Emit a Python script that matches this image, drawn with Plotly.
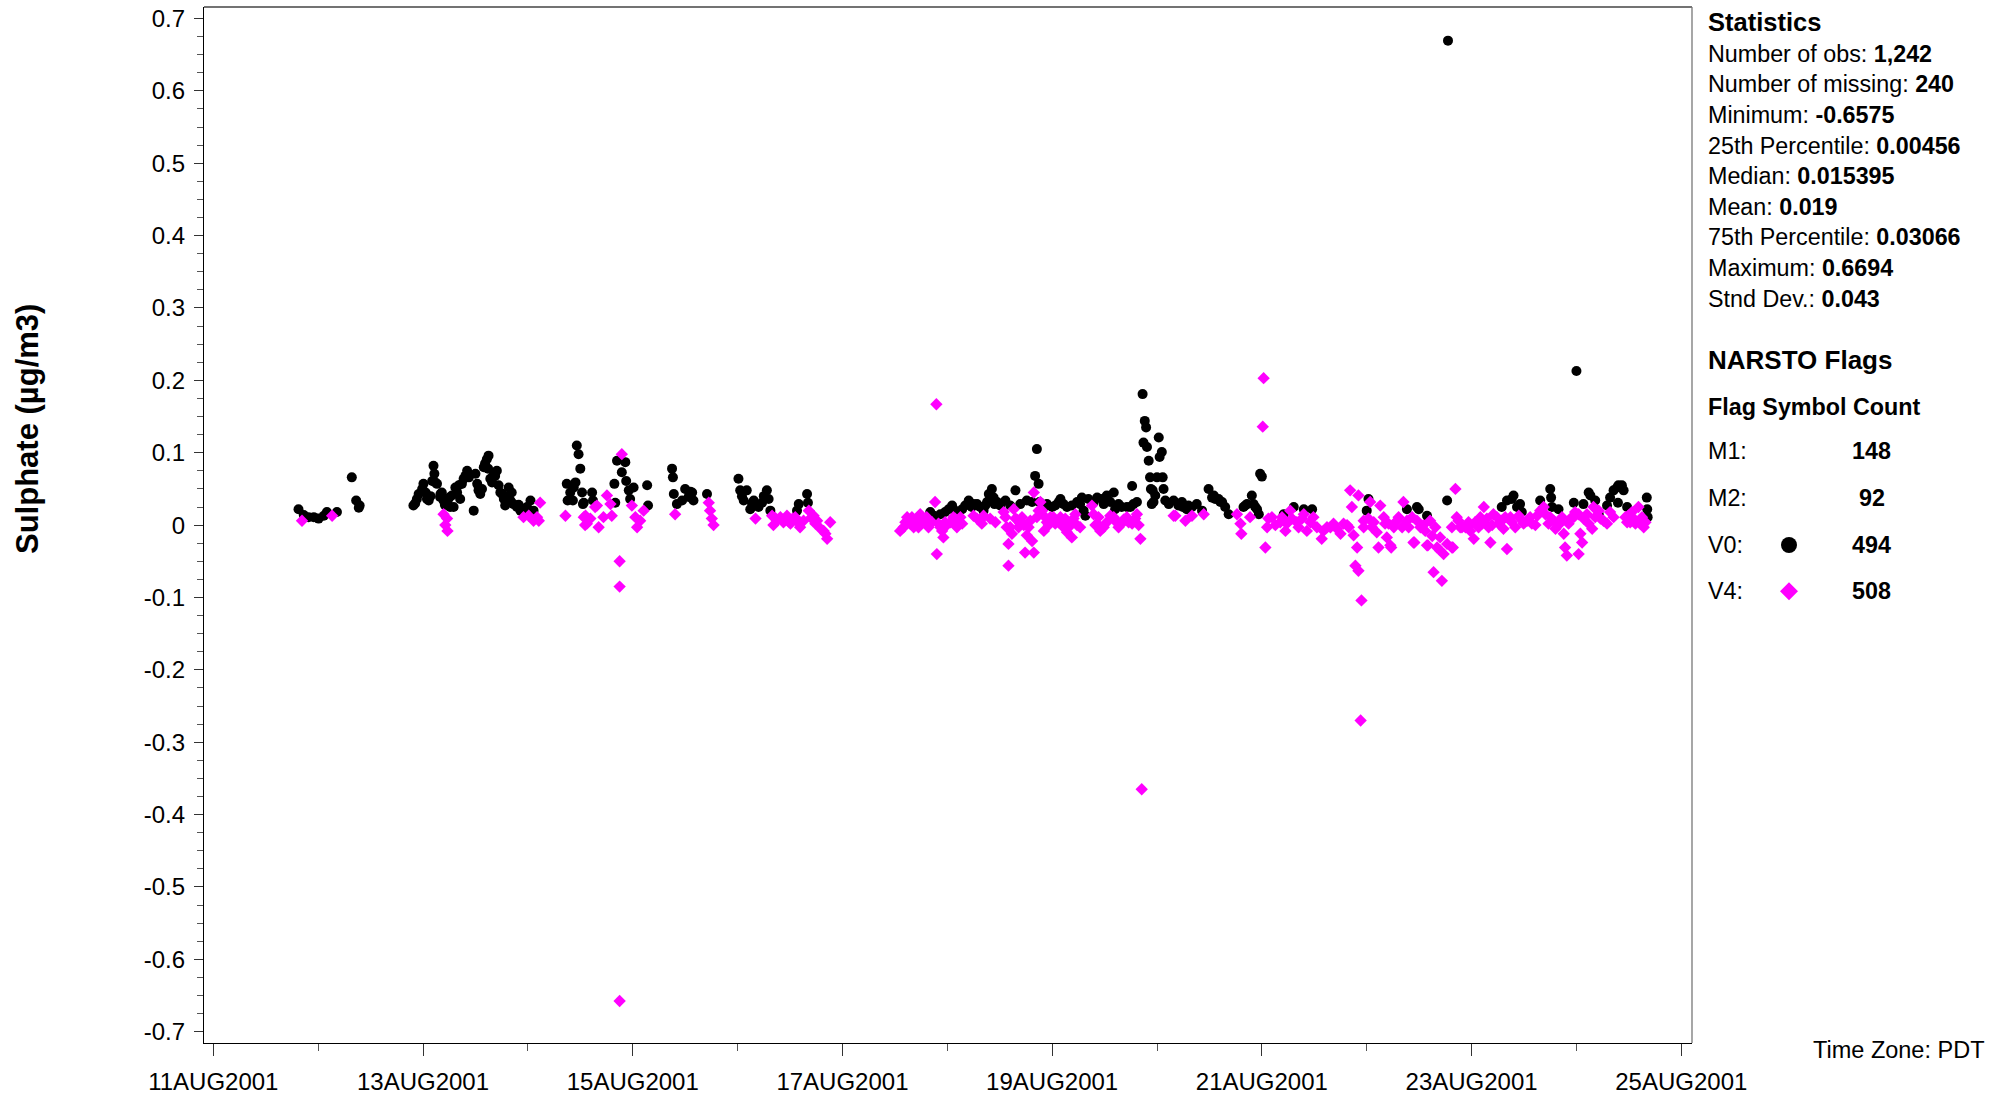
import pandas as pd
import plotly.graph_objects as go

# ---------------- data (hours after 11AUG2001 00:00 PDT, value in ug/m3) ----------------
v0_hours = [
    19.5, 20.7, 21.8, 23.0, 24.1, 25.3, 26.0, 28.3, 31.7, 32.7, 33.3, 33.5,
    45.8, 46.2, 46.6, 47.0, 47.8, 48.1, 48.6, 49.3, 49.7, 50.1, 50.4, 50.6, 51.2, 51.9, 52.3, 52.7,
    53.5, 54.0, 54.6, 55.0, 55.4, 56.2, 56.5, 57.3, 57.7, 58.1, 58.5, 59.6, 60.0, 60.4, 60.7, 61.1,
    61.9, 62.2, 62.6, 63.0, 63.4, 63.8, 64.2, 64.9, 65.3, 65.7, 66.5, 66.8, 67.2, 67.6, 68.0, 68.7,
    69.5, 69.9, 70.3, 71.0, 71.8, 72.6, 73.3,
    48.9, 50.8, 52.0, 53.0, 54.2, 55.8, 56.9, 61.5, 62.9, 64.5, 66.1, 68.3,
    80.9, 81.1, 81.7, 82.3, 82.5, 82.9, 83.2, 83.6, 84.0, 84.4, 84.6, 84.8, 86.7, 86.9,
    91.8, 92.0, 92.4, 93.5, 94.3, 94.5, 95.1, 95.4, 96.2, 99.3, 99.5,
    105.0, 105.2, 105.4, 106.1, 107.3, 108.0, 108.8, 109.2, 109.6, 109.9, 113.0,
    120.2, 120.6, 121.0, 121.4, 122.1, 122.9, 123.3, 123.7, 124.2, 124.8, 125.6, 126.0, 126.7,
    127.1, 127.5, 133.6, 134.0, 135.9, 136.1,
    164.1, 164.9, 166.4, 167.5, 168.3, 169.1, 169.8, 170.2, 171.4, 172.1, 172.9, 173.6, 174.0,
    174.8, 175.5, 176.3, 176.7, 177.1, 177.5, 177.8, 178.2, 178.6, 178.8, 179.4, 180.1, 181.3,
    182.4, 183.6, 184.7, 186.2, 187.4, 188.1, 188.5, 188.9, 189.1, 190.1, 190.8, 192.0, 192.7,
    193.5, 193.9, 194.6, 195.4, 196.5, 197.7, 198.4, 198.8, 199.2, 199.6, 200.3, 201.5, 202.3,
    203.4, 203.8, 204.5, 204.9, 205.3, 206.1, 206.4, 207.2, 207.9, 209.1, 209.9, 210.3, 210.6,
    211.4, 212.7, 212.9, 213.2, 213.5, 213.7, 214.1, 214.4, 214.6, 215.2, 215.6, 216.0, 216.4,
    216.6, 217.1, 217.3, 217.5, 217.9, 218.7, 219.8, 220.9, 221.7, 222.8, 224.0, 225.1, 226.3,
    227.8, 229.0, 230.1, 230.9, 231.6, 232.4, 235.8, 236.6, 237.7, 238.5, 239.3, 239.6, 240.0,
    214.8, 215.0, 221.9, 223.2, 228.6, 229.3, 230.5, 236.2, 238.1, 238.9,
    245.0, 247.3, 249.6, 251.5, 264.0, 264.4, 273.2, 275.5, 275.9, 277.8, 282.4, 282.6,
    294.9, 296.1, 297.2, 297.6, 298.4, 299.1, 299.5, 303.7, 306.0, 306.2, 306.4, 307.9, 311.4,
    312.0, 313.6, 314.8, 315.2, 316.3, 317.1, 319.0, 319.7, 320.5, 321.3, 321.5, 321.6, 322.4,
    322.8, 323.6, 328.1, 328.2, 328.3,
]
v0_values = [
    0.022, 0.014, 0.011, 0.011, 0.009, 0.013, 0.018, 0.018, 0.066, 0.034, 0.024, 0.027,
    0.027, 0.030, 0.036, 0.043, 0.050, 0.057, 0.045, 0.034, 0.040, 0.061, 0.082, 0.071, 0.057, 0.039, 0.045, 0.034,
    0.032, 0.038, 0.041, 0.025, 0.052, 0.055, 0.036, 0.064, 0.068, 0.075, 0.066, 0.020, 0.071, 0.057, 0.048, 0.043,
    0.080, 0.085, 0.091, 0.096, 0.064, 0.059, 0.070, 0.075, 0.055, 0.045, 0.036, 0.027, 0.040, 0.052, 0.034, 0.029,
    0.025, 0.028, 0.020, 0.022, 0.025, 0.034, 0.020,
    0.036, 0.059, 0.043, 0.028, 0.025, 0.045, 0.057, 0.050, 0.078, 0.068, 0.043, 0.045,
    0.057, 0.034, 0.045, 0.034, 0.052, 0.059, 0.110, 0.098, 0.078, 0.045, 0.029, 0.031, 0.045, 0.034,
    0.057, 0.031, 0.089, 0.073, 0.087, 0.061, 0.048, 0.036, 0.052, 0.055, 0.027,
    0.078, 0.066, 0.043, 0.029, 0.034, 0.050, 0.039, 0.046, 0.045, 0.034, 0.043,
    0.064, 0.048, 0.040, 0.034, 0.048, 0.022, 0.030, 0.034, 0.028, 0.025, 0.031, 0.040, 0.048,
    0.036, 0.020, 0.020, 0.029, 0.043, 0.031,
    0.018, 0.013, 0.015, 0.018, 0.022, 0.027, 0.020, 0.015, 0.022, 0.027, 0.034, 0.025, 0.029,
    0.029, 0.025, 0.020, 0.027, 0.032, 0.043, 0.036, 0.050, 0.038, 0.029, 0.032, 0.027, 0.034,
    0.027, 0.048, 0.029, 0.034, 0.032, 0.068, 0.105, 0.057, 0.032, 0.025, 0.029, 0.025, 0.027,
    0.032, 0.036, 0.029, 0.025, 0.027, 0.032, 0.029, 0.038, 0.020, 0.013, 0.036, 0.032, 0.038,
    0.036, 0.029, 0.041, 0.034, 0.032, 0.045, 0.022, 0.029, 0.025, 0.025, 0.025, 0.054, 0.029,
    0.032, 0.181, 0.114, 0.144, 0.135, 0.108, 0.089, 0.066, 0.050, 0.032, 0.041, 0.066, 0.121,
    0.094, 0.101, 0.066, 0.050, 0.034, 0.029, 0.034, 0.027, 0.032, 0.022, 0.025, 0.029, 0.020,
    0.050, 0.041, 0.036, 0.032, 0.025, 0.015, 0.025, 0.029, 0.041, 0.025, 0.015, 0.071, 0.067,
    0.029, 0.048, 0.025, 0.027, 0.038, 0.036, 0.032, 0.027, 0.029, 0.022,
    0.015, 0.025, 0.022, 0.022, 0.020, 0.036, 0.022, 0.025, 0.022, 0.013, 0.034, 0.6694,
    0.025, 0.034, 0.036, 0.041, 0.025, 0.029, 0.018, 0.034, 0.050, 0.038, 0.025, 0.022, 0.031,
    0.213, 0.029, 0.045, 0.041, 0.034, 0.015, 0.027, 0.038, 0.048, 0.052, 0.031, 0.055, 0.055,
    0.048, 0.025, 0.038, 0.022, 0.011,
]

v4_hours = [
    20.3, 27.2,
    52.7, 53.1, 53.5, 53.6, 71.0, 72.2, 73.3, 74.1, 74.5, 74.8,
    80.6, 84.8, 85.1, 85.2, 85.5, 86.3, 87.4, 87.8, 88.2, 89.3, 90.1, 90.9, 91.2, 93.0, 93.0, 93.0,
    93.5, 95.8, 96.6, 97.0, 97.7, 98.5,
    105.7, 113.4, 113.7, 114.1, 114.5,
    124.1, 127.9, 128.2, 128.6, 129.0, 129.8, 130.5, 130.9, 131.3, 131.7, 132.1, 132.6, 133.2,
    133.8, 134.3, 135.1, 136.3, 136.8, 137.4, 137.8, 138.2, 139.0, 139.7, 140.1, 140.5, 141.2,
    157.2, 158.0, 158.4, 158.8, 159.5, 159.9, 160.3, 160.7, 161.1, 161.4, 161.8, 162.2, 163.0,
    163.3, 163.7, 164.5, 165.2, 165.5, 165.6, 166.0, 166.4, 166.8, 167.1, 167.5, 167.9, 168.7,
    169.4, 169.8, 170.2, 170.6, 171.0, 171.4, 174.0, 174.8, 175.5, 175.9, 176.3, 177.8, 179.0,
    180.9, 181.3, 181.6, 182.0, 182.0, 182.4, 182.8, 183.2, 183.6, 183.9, 184.3, 184.7, 185.1,
    185.5, 185.8, 186.2, 186.6, 187.0, 187.4, 187.8, 187.8, 188.5, 188.9, 189.3, 189.7, 190.1,
    190.4, 190.8, 191.2, 191.6, 192.3, 192.7, 193.5, 193.9, 194.2, 194.6, 195.0, 195.4, 195.8,
    196.2, 196.5, 196.9, 197.3, 197.7, 198.4, 201.1, 201.5, 201.9, 202.3, 202.6, 203.0, 203.8,
    204.5, 205.3, 206.1, 206.4, 206.8, 207.2, 207.9, 208.4, 209.1, 209.5, 210.3, 210.6, 211.0,
    211.4, 211.8, 212.2, 212.5,
    219.8, 220.2, 222.5, 224.0, 226.7, 234.3, 235.1, 235.3, 237.3, 240.2, 240.4, 240.8,
    241.2, 241.5, 242.3, 243.1, 244.2, 244.6, 245.4, 245.7, 246.5, 246.9, 248.0, 248.4, 249.2,
    249.6, 250.3, 251.1, 251.8, 252.6, 253.7, 254.1, 254.9, 255.7, 256.4, 257.2, 258.0, 258.7,
    259.5, 259.9, 260.2, 260.6, 261.0, 261.4, 261.8, 262.1, 262.1, 262.6, 262.8, 263.3, 263.3,
    264.4, 264.8, 265.2, 265.6, 266.3, 266.7, 267.1, 267.9, 268.2, 268.6, 269.0, 269.4, 269.6,
    270.2, 270.9, 271.3, 272.1, 272.4, 273.2, 273.6, 274.4, 274.7, 274.9, 275.5, 276.3, 277.0,
    277.4, 277.8, 278.0, 278.5, 279.0, 279.3, 279.7, 280.1, 280.8, 280.8, 281.2, 281.6, 282.4,
    283.5, 283.5, 283.7, 284.3, 284.6, 285.0, 285.4, 285.8, 286.6, 287.3, 287.7, 287.7, 288.5,
    288.8, 289.6,
    290.0, 290.4, 290.8, 291.5, 291.9, 292.3, 292.7, 293.0, 293.8, 294.2, 294.9, 295.3, 295.7,
    296.1, 296.9, 297.2, 298.0, 298.8, 299.1, 299.9, 300.7, 301.4, 301.8, 302.6, 303.0, 303.7,
    304.5, 304.9, 305.6, 306.0, 306.8, 307.2, 307.9, 308.3, 308.7, 309.1, 309.4, 309.8, 310.2,
    310.6, 311.4, 311.7, 312.5, 312.5, 312.9, 313.3, 313.6, 314.4, 314.8, 315.6, 315.9, 316.3,
    317.1, 317.5, 318.2, 319.0, 319.7, 320.5, 323.2, 323.6, 323.9, 324.3, 324.7, 325.1, 325.5,
    326.2, 326.6, 327.0, 327.4, 327.8,
]
v4_values = [
    0.006, 0.013,
    0.015, 0.000, 0.009, -0.008, 0.011, 0.013, 0.006, 0.011, 0.006, 0.031,
    0.013, 0.011, 0.000, 0.013, 0.002, 0.009, 0.025, 0.027, -0.003, 0.011, 0.041, 0.029, 0.013, -0.050, -0.085, -0.6575,
    0.098, 0.027, 0.011, -0.003, 0.006, 0.020,
    0.015, 0.031, 0.020, 0.009, 0.000,
    0.009, 0.013, 0.000, 0.010, 0.006, 0.011, 0.004, 0.008, 0.013, 0.005, 0.002, 0.009, 0.011,
    0.004, -0.003, 0.006, 0.020, 0.010, 0.013, 0.002, 0.006, -0.005, -0.008, -0.012, -0.019, 0.004,
    -0.008, -0.003, 0.004, 0.011, 0.002, 0.011, -0.003, 0.000, 0.008, -0.003, 0.015, 0.006, 0.004,
    0.011, -0.003, 0.004, 0.032, 0.167, -0.040, 0.002, -0.003, -0.008, -0.017, 0.004, 0.000, 0.004,
    0.011, 0.009, -0.003, 0.004, 0.011, 0.002, 0.013, 0.009, 0.006, 0.002, 0.013, 0.009, 0.004,
    0.018, 0.011, -0.003, -0.026, -0.056, -0.003, -0.012, 0.022, 0.009, 0.008, -0.003, 0.002, 0.011,
    0.000, -0.038, -0.014, -0.003, 0.006, -0.022, 0.045, -0.038, 0.011, 0.020, 0.032, 0.020, -0.008,
    0.011, 0.004, 0.000, 0.011, 0.011, 0.002, 0.004, 0.011, 0.004, -0.003, 0.009, -0.010, -0.003,
    0.004, -0.017, 0.009, 0.015, 0.000, -0.003, 0.027, 0.015, 0.000, 0.002, 0.011, -0.008, -0.003,
    0.004, 0.013, 0.011, 0.006, 0.004, -0.003, 0.002, 0.008, 0.011, 0.004, 0.002, 0.006, 0.009,
    0.015, 0.000, -0.019, -0.365,
    0.013, 0.013, 0.006, 0.013, 0.015, 0.015, 0.002, -0.012, 0.011, 0.136, 0.203, -0.031,
    -0.003, 0.009, 0.011, 0.000, 0.004, 0.011, -0.008, 0.002, 0.020, 0.009, 0.004, -0.003, 0.009,
    0.015, -0.008, 0.004, 0.011, -0.003, -0.019, -0.008, -0.003, -0.003, 0.002, -0.005, -0.012, 0.002,
    0.000, -0.003, 0.048, 0.025, -0.014, -0.056, -0.031, -0.063, 0.041, -0.270, -0.104, 0.006, -0.003,
    0.009, 0.032, -0.003, 0.004, -0.010, -0.031, 0.027, 0.011, 0.002, -0.017, 0.002, -0.028, -0.031,
    -0.003, 0.006, 0.011, -0.003, 0.032, 0.006, -0.003, 0.011, -0.024, -0.024, 0.006, -0.003, 0.000,
    -0.008, -0.028, -0.028, 0.006, -0.015, -0.065, -0.003, -0.031, -0.035, -0.017, -0.077, -0.040, -0.026,
    -0.031, -0.003, -0.031, 0.050, 0.011, 0.006, -0.003, -0.003, -0.003, 0.004, 0.000, -0.008, -0.019,
    0.004, -0.003,
    0.011, 0.002, 0.025, 0.009, -0.003, -0.024, 0.000, 0.015, 0.011, 0.002, 0.006, -0.005, 0.011,
    -0.033, 0.011, 0.004, -0.003, 0.013, 0.009, 0.002, 0.006, 0.011, 0.002, 0.000, 0.013, 0.020,
    0.025, 0.015, 0.002, 0.011, 0.006, -0.005, 0.000, 0.006, 0.011, -0.012, -0.031, -0.042, 0.002,
    0.009, 0.011, 0.018, -0.040, 0.015, -0.012, -0.024, 0.009, 0.015, 0.002, -0.005, 0.025, 0.011,
    0.020, 0.009, 0.006, 0.002, 0.018, 0.011, 0.011, 0.004, 0.013, 0.004, 0.018, 0.009, 0.002,
    0.025, 0.002, 0.011, -0.003, 0.004,
]

x_tick_dates = ["2001-08-11", "2001-08-13", "2001-08-15", "2001-08-17", "2001-08-19",
                "2001-08-21", "2001-08-23", "2001-08-25"]
x_tick_labels = ["11AUG2001", "13AUG2001", "15AUG2001", "17AUG2001", "19AUG2001",
                 "21AUG2001", "23AUG2001", "25AUG2001"]
y_tick_values = [0.7, 0.6, 0.5, 0.4, 0.3, 0.2, 0.1, 0, -0.1, -0.2, -0.3, -0.4, -0.5, -0.6, -0.7]
y_tick_labels = ["0.7", "0.6", "0.5", "0.4", "0.3", "0.2", "0.1", "0", "-0.1", "-0.2", "-0.3",
                 "-0.4", "-0.5", "-0.6", "-0.7"]

stat_names = ["Number of obs", "Number of missing", "Minimum", "25th Percentile", "Median",
              "Mean", "75th Percentile", "Maximum", "Stnd Dev."]
stat_values = ["1,242", "240", "-0.6575", "0.00456", "0.015395", "0.019", "0.03066", "0.6694", "0.043"]
flag_names = ["M1", "M2", "V0", "V4"]
flag_counts = ["148", "92", "494", "508"]

# ---------------- figure ----------------
base = pd.Timestamp("2001-08-11 00:00")
v0_time = base + pd.to_timedelta(v0_hours, unit="h")
v4_time = base + pd.to_timedelta(v4_hours, unit="h")

FONT = "Liberation Sans, Arial, Helvetica, sans-serif"
W, H = 2011, 1095
L, R, T, B = 204, 1692, 7, 1043   # plot area in pixels


def px(xp):
    return (xp - L) / (R - L)


def py(yp):
    return (B - yp) / (B - T)


fig = go.Figure()
fig.add_trace(go.Scatter(x=v0_time, y=v0_values, mode="markers", name="V0",
                         marker=dict(symbol="circle", size=10, color="black", line=dict(width=0)),
                         showlegend=False))
fig.add_trace(go.Scatter(x=v4_time, y=v4_values, mode="markers", name="V4",
                         marker=dict(symbol="diamond", size=9.5, color="#ff00ff", line=dict(width=0)),
                         showlegend=False))

xr0 = base - pd.Timedelta(hours=2.13)
xr1 = pd.Timestamp("2001-08-25") + pd.Timedelta(hours=2.45)

fig.update_xaxes(
    range=[xr0, xr1], showgrid=False, zeroline=False, automargin=False,
    showline=True, linecolor="black", linewidth=1.3,
    tickmode="array", tickvals=pd.to_datetime(x_tick_dates), ticktext=x_tick_labels,
    ticks="outside", ticklen=12, tickwidth=1.3, tickcolor="#333333",
    tickfont=dict(family=FONT, size=24, color="black"),
    minor=dict(dtick=86400000, tick0="2001-08-11", ticks="outside", ticklen=7,
               tickwidth=1.3, tickcolor="#555555", showgrid=False),
    ticklabelstandoff=5,
)
fig.update_yaxes(
    range=[-0.7156, 0.7159], showgrid=False, zeroline=False, automargin=False,
    showline=True, linecolor="black", linewidth=1.3,
    tickmode="array", tickvals=y_tick_values, ticktext=y_tick_labels,
    ticks="outside", ticklen=9, tickwidth=1.3, tickcolor="#333333",
    tickfont=dict(family=FONT, size=24, color="black"),
    minor=dict(dtick=0.025, tick0=0, ticks="outside", ticklen=6, tickwidth=1.3,
               tickcolor="#555555", showgrid=False),
    ticklabelstandoff=4,
)

shapes = [
    dict(type="line", xref="paper", yref="paper", x0=0, x1=1, y0=1, y1=1,
         line=dict(color="#444444", width=1.3)),
    dict(type="line", xref="paper", yref="paper", x0=1, x1=1, y0=0, y1=1,
         line=dict(color="#777777", width=1.3)),
]

annotations = []
# y-axis title
annotations.append(dict(text="<b>Sulphate (µg/m3)</b>", xref="paper", yref="paper",
                        x=px(28), y=py(429), xanchor="center", yanchor="middle",
                        textangle=-90, showarrow=False,
                        font=dict(family=FONT, size=31, color="black")))
# Time zone
annotations.append(dict(text="Time Zone: PDT", xref="paper", yref="paper",
                        x=px(1987), y=py(1050), xanchor="right", yanchor="middle",
                        showarrow=False, font=dict(family=FONT, size=23.5, color="black")))

TX = 1706
annotations.append(dict(text="<b>Statistics</b>", xref="paper", yref="paper",
                        x=px(TX), y=py(22), xanchor="left", yanchor="middle", showarrow=False,
                        font=dict(family=FONT, size=25.5, color="black")))
for i, (nm, val) in enumerate(zip(stat_names, stat_values)):
    yy = 53.9 + i * 30.6
    annotations.append(dict(text=f"{nm}: <b>{val}</b>", xref="paper", yref="paper",
                            x=px(TX), y=py(yy), xanchor="left", yanchor="middle",
                            showarrow=False, font=dict(family=FONT, size=23.3, color="black")))
annotations.append(dict(text="<b>NARSTO Flags</b>", xref="paper", yref="paper",
                        x=px(TX), y=py(360), xanchor="left", yanchor="middle", showarrow=False,
                        font=dict(family=FONT, size=26, color="black")))
annotations.append(dict(text="<b>Flag Symbol Count</b>", xref="paper", yref="paper",
                        x=px(TX), y=py(406.5), xanchor="left", yanchor="middle", showarrow=False,
                        font=dict(family=FONT, size=23.3, color="black")))
flag_y = [451.4, 497.6, 545.0, 591.2]
for nm, cnt, yy in zip(flag_names, flag_counts, flag_y):
    annotations.append(dict(text=f"{nm}:", xref="paper", yref="paper",
                            x=px(TX), y=py(yy), xanchor="left", yanchor="middle",
                            showarrow=False, font=dict(family=FONT, size=23.3, color="black")))
    annotations.append(dict(text=f"<b>{cnt}</b>", xref="paper", yref="paper",
                            x=px(1872), y=py(yy), xanchor="center", yanchor="middle",
                            showarrow=False, font=dict(family=FONT, size=23.3, color="black")))

# legend symbols
shapes.append(dict(type="circle", xref="paper", yref="paper", xsizemode="pixel", ysizemode="pixel",
                   xanchor=px(1789), yanchor=py(545.0), x0=-8, x1=8, y0=-8, y1=8,
                   fillcolor="black", line=dict(width=0)))
shapes.append(dict(type="path", xref="paper", yref="paper", xsizemode="pixel", ysizemode="pixel",
                   xanchor=px(1789), yanchor=py(591.2), path="M 0 9 L 9 0 L 0 -9 L -9 0 Z",
                   fillcolor="#ff00ff", line=dict(width=0)))

fig.update_layout(
    width=W, height=H, autosize=False,
    margin=dict(l=L, r=W - R, t=T, b=H - B, pad=0, autoexpand=False),
    plot_bgcolor="white", paper_bgcolor="white",
    font=dict(family=FONT, color="black"),
    shapes=shapes, annotations=annotations, showlegend=False,
)

fig.write_html("out.html", config={"displayModeBar": False},
               post_script="document.body.style.margin='0';document.body.style.overflow='hidden';")
